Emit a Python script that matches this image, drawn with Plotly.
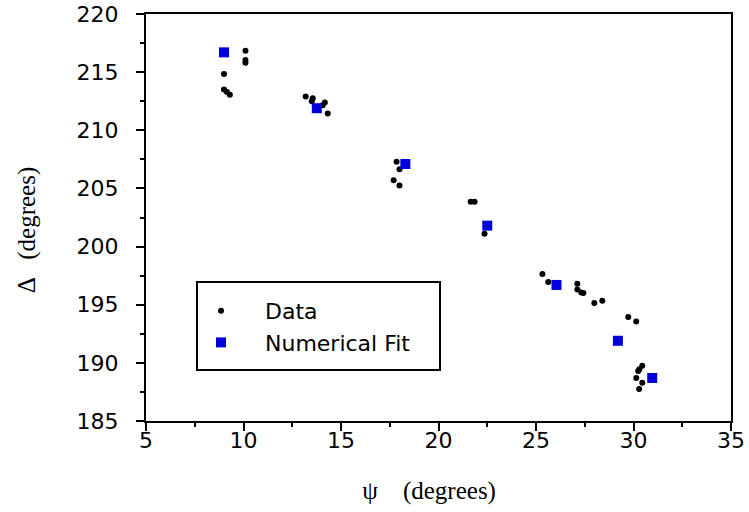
import plotly.graph_objects as go

# measured points (psi, delta) in degrees
data_psi = [
    10.1, 10.1, 10.1, 9.0, 9.0, 9.15, 9.3,
    13.19, 13.55, 13.5, 14.17, 14.06, 14.32,
    17.85, 18.0, 17.7, 18.0,
    21.65, 21.85, 22.36,
    25.33, 25.63, 27.12, 27.12, 27.32, 27.43, 27.99, 28.4,
    29.73, 30.14,
    30.45, 30.3, 30.24, 30.14, 30.45, 30.29,
]
data_delta = [
    216.85, 216.05, 215.8, 214.85, 213.5, 213.3, 213.05,
    212.9, 212.75, 212.5, 212.4, 212.15, 211.45,
    207.3, 206.65, 205.7, 205.25,
    203.85, 203.85, 201.1,
    197.65, 196.95, 196.8, 196.3, 196.05, 196.0, 195.15, 195.35,
    193.95, 193.55,
    189.75, 189.45, 189.3, 188.7, 188.3, 187.75,
]

# numerical fit
fit_psi = [9.0, 13.76, 18.3, 22.5, 26.05, 29.2, 30.96]
fit_delta = [216.7, 211.9, 207.1, 201.8, 196.7, 191.9, 188.7]

fig = go.Figure()
fig.add_trace(go.Scatter(
    x=data_psi, y=data_delta, mode="markers", name="Data",
    marker=dict(color="black", size=6, symbol="circle"),
))
fig.add_trace(go.Scatter(
    x=fit_psi, y=fit_delta, mode="markers", name="Numerical Fit",
    marker=dict(color="#0000DD", size=10, symbol="square"),
))

TICK_FONT = dict(family="DejaVu Sans", size=22, color="black")
TITLE_FONT = dict(family="Liberation Serif", size=25, color="black")


def axis_style(lo, hi, title, standoff, label_gap):
    return dict(
        range=[lo, hi], dtick=5, automargin=False,
        showline=True, linecolor="black", linewidth=2, mirror=True,
        showgrid=False, zeroline=False,
        ticks="outside", ticklen=8, tickwidth=2, tickcolor="black",
        tickfont=TICK_FONT, ticklabelstandoff=label_gap,
        minor=dict(dtick=2.5, ticks="outside", ticklen=4, tickwidth=2, tickcolor="black"),
        title=dict(text=title, standoff=standoff, font=TITLE_FONT),
    )


# legend frame drawn as a paper shape
fig.add_shape(type="rect", xref="paper", yref="paper",
              x0=(197 - 146) / 585, x1=(440 - 146) / 585,
              y0=(421 - 370) / 407, y1=(421 - 282) / 407,
              line=dict(color="black", width=2), fillcolor="white", layer="below")

# trailing padding keeps the titles slightly off-centre, as in the original
PAD = "\u00a0"
END = "\u200b"
fig.update_layout(
    width=749, height=512,
    margin=dict(l=146, r=18, t=14, b=91),
    paper_bgcolor="white", plot_bgcolor="white",
    xaxis=axis_style(5, 35, "ψ    (degrees)" + PAD * 3 + END, 29, -9),
    yaxis=axis_style(185, 220, "Δ   (degrees)" + PAD * 4 + END, 34, 13),
    showlegend=True,
    legend=dict(x=(177 - 146) / 585, y=(421 - 290) / 407, xanchor="left", yanchor="top",
                bgcolor="rgba(0,0,0,0)", borderwidth=0,
                font=dict(family="DejaVu Sans", size=22, color="black"),
                itemwidth=78, tracegroupgap=0),
)

# drop the browser's default body margin so the figure sits at the page origin
fig.write_html("out.html", config={"displayModeBar": False},
               post_script="document.body.style.margin = '0';")
